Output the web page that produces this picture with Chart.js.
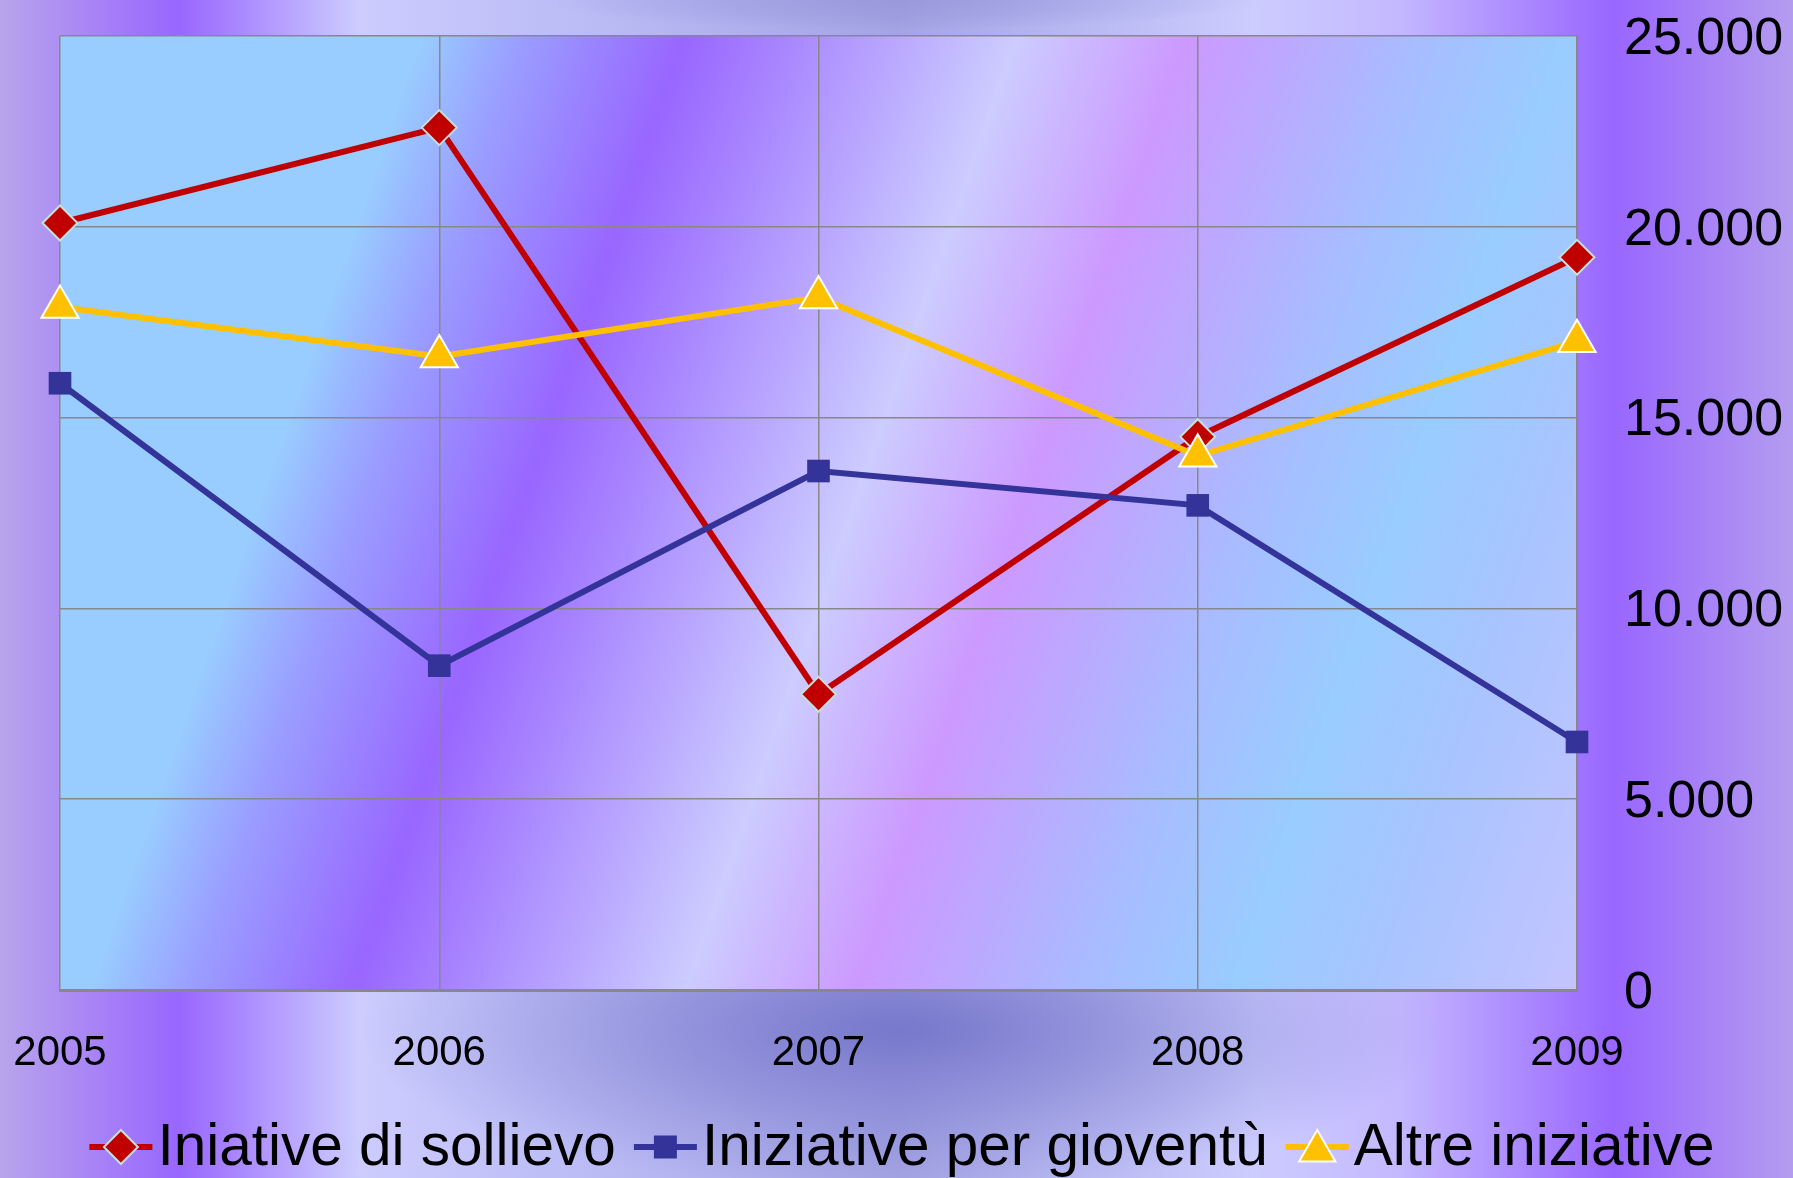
<!DOCTYPE html>
<html>
<head>
<meta charset="utf-8">
<script src="https://cdn.jsdelivr.net/npm/chart.js@4.4.0/dist/chart.umd.min.js"></script>
<style>
  html, body { margin: 0; padding: 0; overflow: hidden; background: #b09cf0; }
</style>
</head>
<body>
<canvas id="chart" width="1793" height="1178"></canvas>
<script>
// data
const years = ['2005', '2006', '2007', '2008', '2009'];
const sollievo = [20100, 22600, 7750, 14500, 19200];
const gioventu = [15900, 8500, 13600, 12700, 6500];
const altre = [17900, 16600, 18150, 14000, 17000];
const seriesNames = ['Iniative di sollievo', 'Iniziative per gioventù', 'Altre iniziative'];
const yMax = 25000;
const yStep = 5000;

const FONT = "'Liberation Sans', Arial, sans-serif";

// 25000 -> "25.000"
function fmt(v) {
  return String(v).replace(/\B(?=(\d{3})+(?!\d))/g, '.');
}

// background: outer texture + plot area bands
const bgPlugin = {
  id: 'bg',
  beforeDraw(chart) {
    const { ctx, width, height, chartArea: a } = chart;
    ctx.save();
    let g = ctx.createLinearGradient(0, 0, width, 0);
    g.addColorStop(0, '#b8a4ec');
    g.addColorStop(0.1, '#9966ff');
    g.addColorStop(0.2, '#ccccff');
    g.addColorStop(0.32, '#bcbcf6');
    g.addColorStop(0.5, '#a4a4e4');
    g.addColorStop(0.7, '#ccccff');
    g.addColorStop(0.78, '#c4b8ff');
    g.addColorStop(0.9, '#9966ff');
    g.addColorStop(1, '#b49cf0');
    ctx.fillStyle = g;
    ctx.fillRect(0, 0, width, height);

    // darker blue spot under the plot and at the top
    const spot = (cx, cy, rx, ry, col) => {
      ctx.save();
      ctx.translate(cx, cy);
      ctx.scale(1, ry / rx);
      const r = ctx.createRadialGradient(0, 0, 0, 0, 0, rx);
      r.addColorStop(0, col);
      r.addColorStop(1, 'rgba(120,120,205,0)');
      ctx.fillStyle = r;
      ctx.fillRect(-rx, -rx, rx * 2, rx * 2);
      ctx.restore();
    };
    spot(900, 1030, 540, 160, 'rgba(112,112,200,0.85)');
    spot(900, 0, 360, 30, 'rgba(140,140,210,0.45)');

    // plot area: tilted bands
    const k = 0.347;
    const u0 = a.left + k * a.top;
    const u1 = a.right + k * a.bottom;
    const s = (u1 - u0) / (1 + k * k);
    const pg = ctx.createLinearGradient(a.left, a.top, a.left + s, a.top + k * s);
    const sc = 1793 / 1568;
    const stops = [
      [0, '#99ccff'], [380, '#99ccff'], [470, '#9a9cff'], [610, '#9966ff'],
      [760, '#b39bff'], [900, '#ccccff'], [1050, '#cc99ff'], [1250, '#a8bcff'],
      [1380, '#99ccff'], [1500, '#a8c4ff'], [1700, '#c4c4ff']
    ];
    stops.forEach(([u, c]) => {
      const t = Math.min(1, Math.max(0, (u * sc - u0) / (u1 - u0)));
      pg.addColorStop(t, c);
    });
    ctx.fillStyle = pg;
    ctx.fillRect(a.left, a.top, a.right - a.left, a.bottom - a.top);
    ctx.restore();
  }
};

// legend drawn as line + marker + text, like the original
function drawMarker(ctx, style, x, y, fill, stroke, bw) {
  ctx.beginPath();
  if (style === 'rectRot') {
    const r = 17;
    ctx.moveTo(x - r, y); ctx.lineTo(x, y - r); ctx.lineTo(x + r, y); ctx.lineTo(x, y + r);
  } else if (style === 'rect') {
    const h = 11.5;
    ctx.rect(x - h, y - h, h * 2, h * 2);
  } else {
    const r = 21;
    ctx.moveTo(x, y - r);
    ctx.lineTo(x + r * 0.866, y + r * 0.5);
    ctx.lineTo(x - r * 0.866, y + r * 0.5);
  }
  ctx.closePath();
  ctx.fillStyle = fill;
  ctx.fill();
  if (bw) { ctx.lineWidth = bw; ctx.strokeStyle = stroke; ctx.stroke(); }
}

const legendPlugin = {
  id: 'lineLegend',
  afterDraw(chart) {
    const ctx = chart.ctx;
    const sets = chart.data.datasets;
    const y = 1147;
    const lineW = 63, gapT = 5, gapItem = 18;
    ctx.save();
    ctx.font = '58.5px ' + FONT;
    ctx.textBaseline = 'middle';
    let total = 0;
    sets.forEach((d, i) => {
      total += lineW + gapT + ctx.measureText(d.label).width + (i ? gapItem : 0);
    });
    let x = 902 - total / 2;
    sets.forEach((d) => {
      ctx.strokeStyle = d.borderColor;
      ctx.lineWidth = 6;
      ctx.beginPath();
      ctx.moveTo(x, y); ctx.lineTo(x + lineW, y);
      ctx.stroke();
      drawMarker(ctx, d.pointStyle, x + lineW / 2, y + (d.pointStyle === 'triangle' ? 4 : 0),
        d.pointBackgroundColor, d.pointBorderColor, d.pointBorderWidth);
      ctx.fillStyle = '#000';
      ctx.fillText(d.label, x + lineW + gapT, y + 2);
      x += lineW + gapT + ctx.measureText(d.label).width + gapItem;
    });
    ctx.restore();
  }
};

new Chart(document.getElementById('chart'), {
  type: 'line',
  data: {
    labels: years,
    datasets: [{
      label: seriesNames[0],
      data: sollievo,
      borderColor: '#c00000',
      borderWidth: 6,
      pointStyle: 'rectRot',
      pointRadius: 17.5,
      pointBackgroundColor: '#c00000',
      pointBorderColor: '#c4e0dc',
      pointBorderWidth: 2,
      order: 3,
      clip: false
    }, {
      label: seriesNames[1],
      data: gioventu,
      borderColor: '#333399',
      borderWidth: 6,
      pointStyle: 'rect',
      pointRadius: 16,
      pointBackgroundColor: '#333399',
      pointBorderColor: '#333399',
      pointBorderWidth: 0,
      order: 2,
      clip: false
    }, {
      label: seriesNames[2],
      data: altre,
      borderColor: '#ffc000',
      borderWidth: 6,
      pointStyle: 'triangle',
      pointRadius: 21.5,
      pointBackgroundColor: '#ffc000',
      pointBorderColor: '#ffffff',
      pointBorderWidth: 2,
      order: 1,
      clip: false
    }]
  },
  options: {
    responsive: false,
    animation: false,
    devicePixelRatio: 1,
    layout: { padding: { left: 60, top: 36, right: 0, bottom: 78 } },
    elements: { line: { tension: 0 } },
    plugins: {
      legend: { display: false },
      tooltip: { enabled: false }
    },
    scales: {
      x: {
        offset: false,
        // invisible tick marks push the labels down without padding the plot
        grid: { color: '#888888', lineWidth: 1.5, drawTicks: true, tickLength: 38, tickColor: 'rgba(0,0,0,0)' },
        border: { color: '#888888', width: 3 },
        ticks: { color: '#000', padding: 0, font: { family: FONT, size: 42 } },
        afterFit(scale) { scale.height = 110; }
      },
      y: {
        position: 'right',
        min: 0,
        max: yMax,
        grid: { color: '#888888', lineWidth: 1.5, drawTicks: true, tickLength: 47, tickColor: 'rgba(0,0,0,0)' },
        border: { color: '#888888', width: 2 },
        ticks: {
          stepSize: yStep,
          color: '#000',
          padding: 0,
          labelOffset: 3.5,
          font: { family: FONT, size: 52 },
          callback: (v) => fmt(v)
        },
        afterFit(scale) { scale.width = 216; }
      }
    }
  },
  plugins: [bgPlugin, legendPlugin]
});
</script>
</body>
</html>
